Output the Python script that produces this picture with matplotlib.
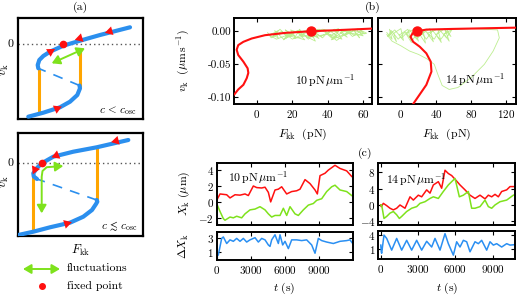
import matplotlib
matplotlib.use('Agg')
import matplotlib.pyplot as plt
from matplotlib.patches import FancyArrowPatch
from matplotlib.path import Path
from matplotlib.ticker import FormatStrFormatter, NullFormatter

plt.rcParams.update({
    'font.family': 'serif', 'font.serif': ['cmr10'],
    'mathtext.fontset': 'cm', 'axes.formatter.use_mathtext': True,
    'font.size': 8, 'axes.linewidth': 1.4,
    'xtick.direction': 'in', 'ytick.direction': 'in',
    'xtick.top': True, 'ytick.right': True,
    'xtick.major.size': 3, 'ytick.major.size': 3,
    'xtick.major.width': 0.8, 'ytick.major.width': 0.8,
    'xtick.major.pad': 3, 'ytick.major.pad': 2,
    'xtick.labelsize': 8, 'ytick.labelsize': 8,
})

RED = '#ff1010'; GREEN = '#7ee21c'; BLUE = '#2a8ff2'; ORANGE = '#ffa500'
LGREEN = '#bdee90'; ABLUE = '#2b8fee'

# ---------------- schematic (a), top box (arbitrary units) ----------------
a1_low_F = [10.3, 25.3, 42, 52, 59.3, 62, 61.5]
a1_low_v = [2.3, 6.3, 11.7, 17.3, 24, 30.7, 33.5]
a1_mid_F = [61.5, 20.3]
a1_mid_v = [33.5, 50.7]
a1_up_F = [20.3, 19.7, 21.3, 25.3, 32, 45.3, 62, 82, 112]
a1_up_v = [50.7, 54, 59, 63, 67.3, 73.3, 78.3, 84, 91.7]
a1_orange = [(21.3, 50.7, 5.7), (62, 70.7, 31.7)]
a1_fixed = (45.3, 74.7)
a1_fluct = [(67, 70.7), (33.7, 55.7)]
a1_heads = [(35.3, 69, 1, 0.6), (58.7, 79.7, -1, -0.3), (88.7, 86.7, -1, -0.28), (42, 11.7, 1, 0.45)]

# ---------------- schematic (a), bottom box ----------------
a2_low_F = [0.3, 15.3, 32, 52, 65.3, 74, 78, 79.3, 78.7]
a2_low_v = [1, 4.3, 8.7, 13.3, 19.3, 26, 32, 34.3, 36]
a2_mid_F = [78.7, 19]
a2_mid_v = [36, 57]
a2_up_F = [19, 15.8, 15.3, 18.7, 23.7, 35.3, 55.3, 78.7, 110.3]
a2_up_v = [57, 59.5, 62.7, 67.7, 72.7, 79.3, 84.3, 88.7, 96]
a2_orange = [(15.3, 62.7, 6), (78.7, 89.3, 35.3)]
a2_fixed = (24.3, 72.7)
a2_fluct_F = [23.7, 23.7, 24.5, 28.7, 45.3]
a2_fluct_v = [22.7, 59.3, 65, 68.8, 70]
a2_heads = [(15.6, 63.5, -0.45, -1), (35.3, 79.3, -1, -0.4), (95, 94.3, -1, -0.25), (52, 13.3, 1, 0.3)]

# ---------------- panel (b) ----------------
bL_curve_F = [-12.8, -10.6, -7.7, -5.8, -4.9, -5.3, -7.7, -10.6, -11.5, -10.6, -7.7, -3, 4.5, 15.9, 30.6, 44.2, 65]
bL_curve_v = [-0.0955, -0.088, -0.081, -0.071, -0.063, -0.056, -0.046, -0.036, -0.028, -0.021, -0.016, -0.011, -0.006, -0.0025, 0.0, 0.0015, 0.004]
bL_fixed = (30.6, 0.0)
bR_curve_F = [13.97, 21.5, 29, 34.8, 34, 29, 21.5, 14, 11, 13.2, 18.9, 29, 59, 131]
bR_curve_v = [-0.110, -0.0955, -0.081, -0.061, -0.046, -0.0334, -0.0234, -0.016, -0.0085, -0.0035, 0.0, 0.0025, 0.0035, 0.0054]
bR_fixed = (18.9, 0.0)

bL_cloud = [(8, -0.004), (12, -0.010), (10, 0.001), (15, -0.012), (20, -0.006), (16, 0.002), (22, -0.009),
            (27, -0.013), (23, -0.002), (30, 0.003), (35, -0.011), (31, -0.005), (38, 0.002), (43, -0.012),
            (39, -0.003), (46, 0.004), (51, -0.009), (47, -0.002), (54, 0.003), (58, -0.010), (55, 0.001),
            (61, -0.004), (57, 0.004), (50, -0.006), (53, 0.002), (45, -0.014), (40, -0.003), (44, 0.003),
            (36, -0.008), (30, 0.001), (33, -0.015), (25, -0.004), (19, 0.002), (22, -0.010), (14, -0.003),
            (9, -0.008), (12, 0.001), (7, -0.006), (11, -0.012), (18, -0.005), (24, 0.002), (21, -0.011),
            (29, -0.006), (34, 0.002), (31, -0.009), (40, -0.004), (48, -0.012), (44, 0.003), (52, -0.002),
            (60, -0.007), (56, 0.003), (49, -0.005), (42, -0.013), (46, -0.001), (37, 0.003), (28, -0.010),
            (32, -0.004), (23, 0.001), (15, -0.013), (18, -0.002), (10, -0.005), (13, 0.003), (17, -0.008),
            (21, 0.000), (26, -0.007), (24, 0.003), (29, -0.012), (33, -0.002), (37, -0.010), (41, 0.001),
            (45, -0.007), (43, -0.011), (50, 0.002), (54, -0.008), (59, 0.001), (62, -0.003), (55, -0.006),
            (48, 0.003), (42, -0.006), (35, 0.003), (27, -0.003), (20, -0.012), (14, 0.000), (8, -0.010),
            (6, -0.002)]
bR_cloud = [(-16, -0.002), (-10, -0.012), (-13, 0.003), (-5, -0.016), (-8, -0.003), (0, 0.004), (3, -0.014),
            (-2, -0.006), (8, 0.003), (12, -0.017), (6, -0.004), (16, 0.004), (20, -0.015), (14, -0.002),
            (25, 0.003), (28, -0.018), (22, -0.006), (33, 0.004), (37, -0.016), (30, -0.003), (42, 0.003),
            (46, -0.017), (40, -0.005), (50, 0.004), (55, -0.015), (49, -0.004), (58, 0.002), (52, -0.010),
            (44, 0.002), (38, -0.012), (27, 0.001), (18, -0.012), (10, 0.002), (1, -0.010), (-7, 0.002),
            (-15, -0.008), (-11, 0.001), (-3, -0.012), (5, -0.001), (13, -0.014), (21, 0.002), (29, -0.012),
            (36, 0.001), (45, -0.013), (53, 0.001), (57, -0.008), (50, 0.002), (80, 0.004), (110, 0.002),
            (112, -0.010), (105, -0.030), (95, -0.050), (80, -0.070), (65, -0.085), (55, -0.088), (47, -0.082),
            (42, -0.065), (38, -0.050), (30, -0.042), (20, -0.035), (10, -0.030), (0, -0.022), (-10, -0.015),
            (-16, -0.005)]

# ---------------- panel (c) ----------------
cL_t_red = [15, 309, 603, 897, 1190, 1631, 2071, 2512, 2806, 3246, 3540, 3981, 4274, 4568, 4773, 5155, 5449,
            5743, 6183, 6624, 7064, 7358, 7799, 8239, 8680, 8885, 9120, 9561, 9854, 10442, 10882, 11470, 11911]
cL_red = [0.2, 1.0, 0.95, 0.9, 0.5, 0.9, 0.85, 1.0, 0.8, 2.0, 1.8, 1.75, 1.85, 1.2, 0.0, 1.5, 1.6, 1.9, 1.0,
          1.3, 1.4, 1.6, 2.8, 2.3, 1.5, 1.0, 3.3, 3.6, 4.0, 4.6, 4.2, 3.9, 3.2]
cL_t_green = [15, 309, 603, 750, 1190, 1484, 1778, 2218, 2512, 2953, 3393, 3834, 4274, 4568, 4862, 5155, 5596,
              5890, 6183, 6477, 6917, 7211, 7652, 8093, 8533, 8827, 9268, 9708, 10149, 10442, 10882, 11470, 11911]
cL_green = [-0.2, -1.2, -2.1, -2.3, -1.9, -2.0, -1.8, -2.0, -1.5, -1.0, -0.9, -0.6, -1.0, -1.5, -1.9, -1.7,
            -1.7, -0.8, -1.7, -0.6, -1.5, -1.7, -1.0, -0.4, -0.2, 0.2, 0.4, 1.3, 1.9, 2.1, 1.5, 1.3, 0.8]
cL_t_blue = [15, 162, 456, 603, 897, 1190, 1484, 1778, 2071, 2365, 2659, 2953, 3393, 3687, 3981, 4274, 4568,
             4715, 4862, 5155, 5449, 5596, 5831, 6036, 6330, 6624, 7064, 7505, 7945, 8386, 8680, 8974, 9268,
             9708, 10295, 10882, 11470, 11764, 12000]
cL_blue = [0.4, 0.63, 2.9, 3.1, 2.2, 2.7, 2.5, 2.9, 2.5, 2.9, 2.4, 2.7, 3.0, 2.4, 2.9, 2.7, 2.0, 1.8, 2.7, 3.4,
           2.2, 3.4, 2.0, 2.5, 1.5, 2.7, 2.7, 2.6, 2.7, 2.0, 0.86, 2.9, 2.6, 2.4, 2.2, 2.5, 2.6, 2.7, 2.2]

cR_t_red = [0, 40, 205, 474, 741, 1010, 1278, 1546, 1948, 2352, 2619, 3021, 3290, 3692, 3961, 4229, 4631, 4899,
            5168, 5436, 5704, 5973, 6375, 6777, 7180, 7582, 7984, 8387, 8655, 8924, 9191, 9460, 9728, 10131,
            10399, 10802]
cR_red = [0.0, -0.4, 0.4, -0.16, -0.8, -1.2, -0.8, 0.0, -0.8, 2.0, 1.2, 2.4, 2.0, 3.7, 2.9, 4.9, 5.7, 4.1, 8.5,
          7.7, 7.2, 6.3, 4.9, 3.7, 2.4, 1.6, 2.4, 1.5, 2.4, 2.0, 2.6, 2.0, 3.3, 3.7, 4.5, 4.5]
cR_t_green = [0, 71, 258, 474, 741, 1010, 1278, 1493, 1681, 2083, 2485, 2888, 3156, 3558, 3961, 4229, 4631,
              5033, 5436, 5973, 6161, 6321, 6644, 7046, 7313, 7582, 7984, 8387, 8655, 8924, 9191, 9594, 10131,
              10668]
cR_green = [0, 0, -3.3, -2.8, -2.0, -1.6, -2.4, -3.3, -2.8, -1.6, -0.8, -0.4, 0.4, 0.8, 1.6, 2.0, 1.6, 3.3,
            4.9, 6.5, 4.1, 2.0, 2.4, 3.3, -0.8, -0.8, -0.4, 1.2, -0.4, -0.8, 0, 0.8, 1.2, 2.4]
cR_t_blue = [0, 40, 71, 258, 474, 876, 1278, 1681, 2083, 2485, 2888, 3290, 3692, 4095, 4363, 4766, 5168, 5436,
             5839, 6107, 6375, 6644, 6912, 7180, 7582, 7851, 8118, 8521, 8789, 9058, 9326, 9728, 10131, 10399,
             10802]
cR_blue = [1.9, 0.5, 0.2, 4.0, 3.3, 0.85, 3.3, 0.85, 2.9, 0.85, 2.9, 0.85, 2.7, 1.5, 3.3, 0.85, 4.3, 2.2,
           -0.2, 2.6, 1.5, 2.9, 2.6, 0.5, 2.6, 2.2, 2.9, 0.85, 2.6, 1.9, 2.2, 1.5, 2.2, 1.9, 2.0]

W, H = 517, 295
fig = plt.figure(figsize=(W / 100, H / 100), dpi=100)


def box(x0, y0, x1, y1):
    return fig.add_axes([x0 / W, 1 - y1 / H, (x1 - x0) / W, (y1 - y0) / H])


def head(ax, x, y, dx, dy, color=RED, s=8):
    n = (dx ** 2 + dy ** 2) ** 0.5
    ax.add_patch(FancyArrowPatch((x - 3 * dx / n, y - 3 * dy / n), (x + 2 * dx / n, y + 2 * dy / n),
                                 arrowstyle='-|>,head_length=0.7,head_width=0.4', mutation_scale=s,
                                 color=color, lw=0, shrinkA=0, shrinkB=0, zorder=6))


DARROW = '<|-|>,head_length=0.6,head_width=0.35'


def schematic(ax, low, mid, up, orange, fixed, heads, w, h):
    ax.set_xlim(0, w); ax.set_ylim(0, h)
    ax.set_xticks([]); ax.set_yticks([])
    for s in ax.spines.values():
        s.set_linewidth(1.6)
    ax.axhline(fixed[1], color='#555555', ls=(0, (1, 2.2)), lw=1.0, zorder=1)
    for F, vt, vb in orange:
        ax.plot([F, F], [vb, vt], color=ORANGE, lw=2.2, zorder=2, solid_capstyle='butt')
    ax.plot(*low, color=ABLUE, lw=3, zorder=3, solid_capstyle='round')
    ax.plot(*mid, color=ABLUE, lw=1.2, ls=(0, (6, 5)), zorder=3)
    ax.plot(*up, color=ABLUE, lw=3, zorder=3, solid_capstyle='round')
    ax.plot(*fixed, 'o', color=RED, ms=4.5, zorder=7)
    for hd in heads:
        head(ax, *hd)


axa1 = box(18, 18, 143, 119)
schematic(axa1, (a1_low_F, a1_low_v), (a1_mid_F, a1_mid_v), (a1_up_F, a1_up_v), a1_orange, a1_fixed,
          a1_heads, 125, 101)
axa1.add_patch(FancyArrowPatch(a1_fluct[0], a1_fluct[1], arrowstyle=DARROW,
                               mutation_scale=8, color=GREEN, lw=1.4, shrinkA=0, shrinkB=0, zorder=5))
axa1.text(119, 8, r'$c\, <\, c_{\mathrm{osc}}$', ha='right', va='center', fontsize=8)

axa2 = box(18, 133, 143, 236)
schematic(axa2, (a2_low_F, a2_low_v), (a2_mid_F, a2_mid_v), (a2_up_F, a2_up_v), a2_orange, a2_fixed,
          a2_heads, 125, 103)
verts = list(zip(a2_fluct_F, a2_fluct_v))
axa2.add_patch(FancyArrowPatch(path=Path(verts), arrowstyle=DARROW,
                               mutation_scale=8, color=GREEN, lw=1.4, zorder=5))
axa2.text(120, 10, r'$c\, \lesssim\, c_{\mathrm{osc}}$', ha='right', va='center', fontsize=8)

# ---------------- panel (b) ----------------
axbL = box(234, 18, 372, 104)
axbR = box(378, 18, 516, 104)
for ax, cloud, cF, cv, fx, xl, xt in [
        (axbL, bL_cloud, bL_curve_F, bL_curve_v, bL_fixed, (-13, 65), [0, 20, 40, 60]),
        (axbR, bR_cloud, bR_curve_F, bR_curve_v, bR_fixed, (-26, 131), [0, 40, 80, 120])]:
    ax.plot([p[0] for p in cloud], [p[1] for p in cloud], color=LGREEN, lw=0.6, zorder=2)
    ax.plot(cF, cv, color=RED, lw=1.5, zorder=3)
    ax.plot(*fx, 'o', color=RED, ms=6.5, zorder=4)
    ax.set_xlim(*xl); ax.set_ylim(-0.11, 0.02)
    ax.set_xticks(xt)
    ax.set_yticks([0.0, -0.05, -0.10])
axbL.yaxis.set_major_formatter(FormatStrFormatter('%.2f'))
axbR.yaxis.set_major_formatter(NullFormatter())

# ---------------- panel (c) ----------------
axcL1 = box(216.5, 163.3, 352.7, 225)
axcL2 = box(216.5, 231.5, 352.7, 259.5)
axcR1 = box(378.3, 163.3, 515, 225)
axcR2 = box(378.3, 231, 515, 258.5)

axcL1.plot(cL_t_red, cL_red, color=RED, lw=1.1)
axcL1.plot(cL_t_green, cL_green, color=GREEN, lw=1.1)
axcL1.set_ylim(-2.9, 4.85); axcL1.set_yticks([-2, 0, 2, 4])
axcL2.plot(cL_t_blue, cL_blue, color=BLUE, lw=1.1)
axcL2.set_ylim(0.0, 3.85); axcL2.set_yticks([1, 3])
axcR1.plot(cR_t_red, cR_red, color=RED, lw=1.1)
axcR1.plot(cR_t_green, cR_green, color=GREEN, lw=1.1)
axcR1.set_ylim(-4.9, 10.2); axcR1.set_yticks([-4, 0, 4, 8])
axcR2.plot(cR_t_blue, cR_blue, color=BLUE, lw=1.1)
axcR2.set_ylim(-0.9, 4.85); axcR2.set_yticks([1, 4])
for ax in (axcL1, axcL2):
    ax.set_xlim(0, 12000)
for ax in (axcR1, axcR2):
    ax.set_xlim(-200, 10800)
for ax in (axcL1, axcL2, axcR1, axcR2):
    ax.set_xticks([0, 3000, 6000, 9000])
for ax in (axcL1, axcR1):
    ax.xaxis.set_major_formatter(NullFormatter())

# ---------------- overlay text ----------------
ov = fig.add_axes([0, 0, 1, 1], zorder=10)
ov.set_xlim(0, W); ov.set_ylim(H, 0); ov.axis('off')
ov.text(80, 7, '(a)', ha='center', va='center', fontsize=8.5)
ov.text(373, 7, '(b)', ha='center', va='center', fontsize=8.5)
ov.text(365, 153, '(c)', ha='center', va='center', fontsize=8.5)
ov.text(5, 70, r'$v_{\mathrm{k}}$', rotation=90, ha='center', va='center', fontsize=9)
ov.text(5, 182, r'$v_{\mathrm{k}}$', rotation=90, ha='center', va='center', fontsize=9)
ov.text(11, 44, '0', ha='center', va='center', fontsize=8.5)
ov.text(11, 163, '0', ha='center', va='center', fontsize=8.5)
ov.text(81, 250, r'$F_{\mathrm{kk}}$', ha='center', va='center', fontsize=9)
ov.add_patch(FancyArrowPatch((23, 269), (60, 269), arrowstyle=DARROW,
                             mutation_scale=8, color=GREEN, lw=1.4, shrinkA=0, shrinkB=0))
ov.text(67, 268.5, 'fluctuations', ha='left', va='center', fontsize=8.5)
ov.plot([41.7], [286], 'o', color=RED, ms=4)
ov.text(67, 285.5, 'fixed point', ha='left', va='center', fontsize=8.5)
ov.text(325, 81, r'$10\,\mathrm{pN}\,\mu\mathrm{m}^{-1}$', ha='center', va='center', fontsize=8.5)
ov.text(475, 80, r'$14\,\mathrm{pN}\,\mu\mathrm{m}^{-1}$', ha='center', va='center', fontsize=8.5)
ov.text(183, 61, r'$v_{\mathrm{k}}\ \ (\mu\mathrm{m\,s}^{-1})$', rotation=90, ha='center', va='center', fontsize=8.5)
ov.text(303, 134, r'$F_{\mathrm{kk}}\ \ (\mathrm{pN})$', ha='center', va='center', fontsize=8.5)
ov.text(447, 134, r'$F_{\mathrm{kk}}\ \ (\mathrm{pN})$', ha='center', va='center', fontsize=8.5)
ov.text(258, 178, r'$10\,\mathrm{pN}\,\mu\mathrm{m}^{-1}$', ha='center', va='center', fontsize=8.5)
ov.text(416, 180, r'$14\,\mathrm{pN}\,\mu\mathrm{m}^{-1}$', ha='center', va='center', fontsize=8.5)
ov.text(184, 193, r'$X_{\mathrm{k}}\ (\mu\mathrm{m})$', rotation=90, ha='center', va='center', fontsize=8.5)
ov.text(184, 246, r'$\Delta X_{\mathrm{k}}$', rotation=90, ha='center', va='center', fontsize=8.5)
ov.text(284, 288, r'$t\ (\mathrm{s})$', ha='center', va='center', fontsize=8.5)
ov.text(447, 288, r'$t\ (\mathrm{s})$', ha='center', va='center', fontsize=8.5)

fig.savefig('out.png', dpi=100)
